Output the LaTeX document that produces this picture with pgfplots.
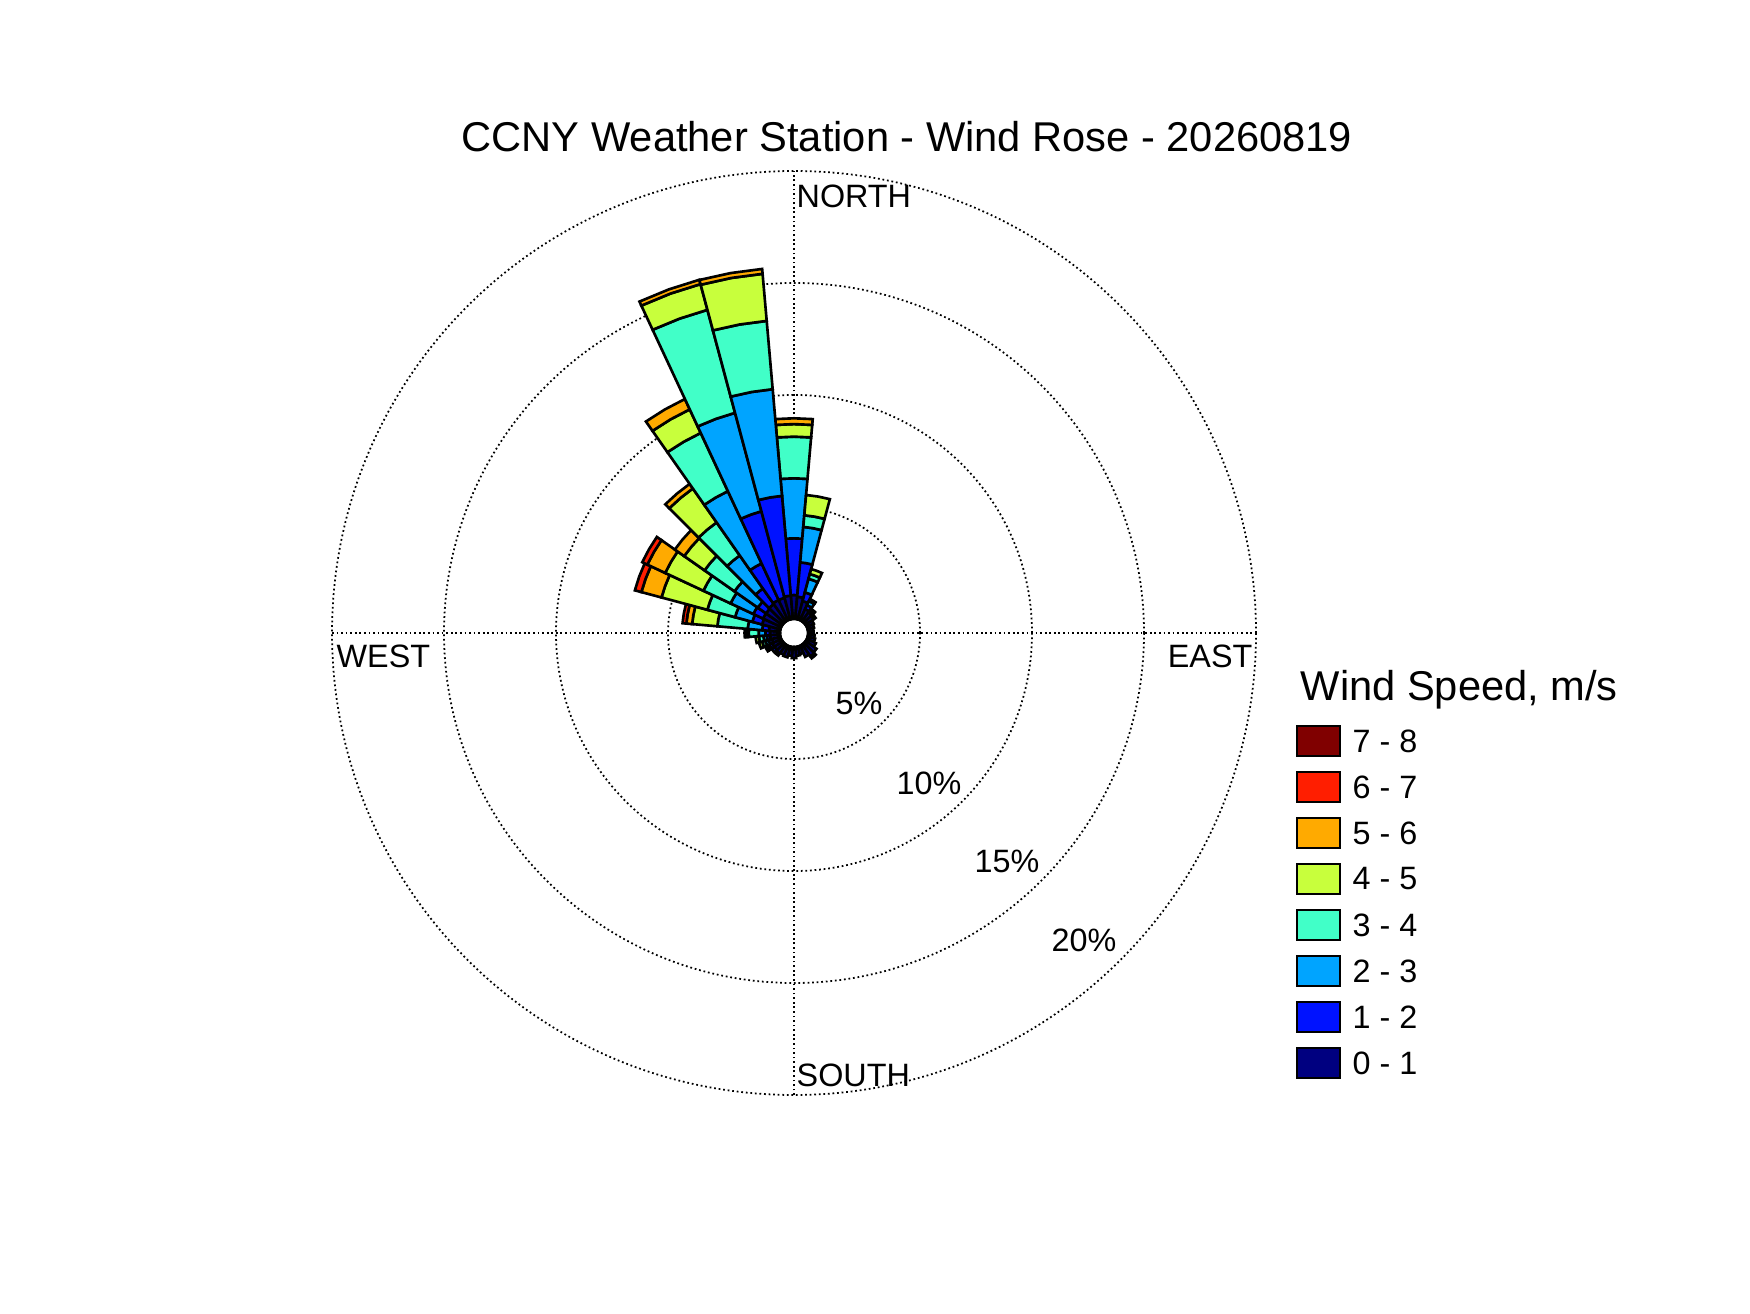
\documentclass[border=0pt]{standalone}
\usepackage{fontspec}
\setmainfont{Liberation Sans}
\usepackage{pgfplots}
\usepackage{pgfplotstable}
\pgfplotsset{compat=1.18}
\definecolor{c1}{RGB}{0,0,128}
\definecolor{c2}{RGB}{0,18,255}
\definecolor{c3}{RGB}{0,164,255}
\definecolor{c4}{RGB}{65,255,200}
\definecolor{c5}{RGB}{200,255,60}
\definecolor{c6}{RGB}{255,170,0}
\definecolor{c7}{RGB}{255,30,0}
\definecolor{c8}{RGB}{128,0,0}
% per-direction frequency (%) of each speed class
\pgfplotstableread{
dir c1 c2 c3 c4 c5 c6 c7 c8
0 1.07 2.53 2.68 1.86 0.56 0.26 0 0
10 1.00 1.54 1.59 0.52 0.91 0 0 0
20 0.85 0.40 0.63 0.22 0.23 0 0 0
30 0.55 0.20 0.20 0.10 0 0 0 0
40 0.50 0.12 0.08 0 0 0 0 0
50 0.45 0.10 0 0 0 0 0 0
60 0.35 0 0 0 0 0 0 0
70 0.30 0 0 0 0 0 0 0
80 0.25 0 0 0 0 0 0 0
90 0.25 0 0 0 0 0 0 0
100 0.30 0 0 0 0 0 0 0
110 0.35 0 0 0 0 0 0 0
120 0.45 0 0 0 0 0 0 0
130 0.60 0 0 0 0 0 0 0
140 0.65 0.10 0 0 0 0 0 0
150 0.55 0 0 0 0 0 0 0
160 0.35 0 0 0 0 0 0 0
170 0.40 0 0 0 0 0 0 0
180 0.50 0 0 0 0 0 0 0
190 0.40 0 0 0 0 0 0 0
200 0.50 0 0 0 0 0 0 0
210 0.45 0 0 0 0 0 0 0
220 0.50 0.10 0 0 0 0 0 0
230 0.45 0.15 0 0 0 0 0 0
240 0.45 0.15 0.10 0.10 0 0 0 0
250 0.40 0.15 0.15 0.15 0.15 0 0 0
260 0.45 0.15 0.15 0.20 0.15 0 0 0
270 0.45 0.20 0.30 0.45 0 0.10 0.08 0
280 0.50 0.30 0.65 1.36 1.13 0.26 0.17 0
290 0.85 0.45 0.80 1.28 2.12 0.93 0.30 0
300 0.90 0.48 1.12 1.34 1.88 0.88 0.25 0
310 0.90 0.45 1.27 1.63 1.11 0.51 0 0
320 0.95 0.85 1.80 1.80 1.85 0.25 0 0
330 1.00 1.80 3.56 2.87 1.16 0.51 0 0
340 1.00 4.00 4.55 4.76 1.19 0.20 0 0
350 1.05 4.47 4.78 3.06 2.11 0.22 0 0
}\rosedata
\tikzset{gridd/.style={line width=0.5pt, dash pattern=on 0.5pt off 0.8pt, black}}
\begin{document}
\begin{tikzpicture}
\useasboundingbox (0,0) rectangle (175mm,131.3mm);
\begin{axis}[at={(79.4mm,68mm)}, anchor=center,
  width=94.08mm, height=94.08mm, scale only axis,
  xmin=-21, xmax=21, ymin=-21, ymax=21,
  hide axis, clip=false]
  \draw[gridd] (axis cs:0,-20.625) -- (axis cs:0,20.625);
  \draw[gridd] (axis cs:-20.625,0) -- (axis cs:20.625,0);
  \draw[gridd] (axis cs:0,0) circle[radius=12.6mm];
  \draw[gridd] (axis cs:0,0) circle[radius=23.8mm];
  \draw[gridd] (axis cs:0,0) circle[radius=35.0mm];
  \draw[gridd] (axis cs:0,0) circle[radius=46.2mm];
  \pgfplotsforeachungrouped \rr in {0,...,35}{%
    \pgfplotstablegetelem{\rr}{dir}\of\rosedata
    \let\dirv\pgfplotsretval
    \def\acc{0.625}%
    \pgfmathsetmacro\aone{95-\dirv}%
    \pgfmathsetmacro\atwo{85-\dirv}%
    \pgfmathsetmacro\amid{90-\dirv}%
    \pgfplotsforeachungrouped \cc in {1,...,8}{%
      \pgfplotstablegetelem{\rr}{c\cc}\of\rosedata
      \let\val\pgfplotsretval
      \pgfmathsetmacro\rin{\acc}%
      \pgfmathsetmacro\rout{\acc+\val}%
      \pgfmathtruncatemacro\pos{\val>0.001}%
      \ifnum\pos=1\relax
        \edef\temp{\noexpand\addplot[data cs=polar, fill=c\cc, draw=black, line width=0.75pt, line join=miter, forget plot]
          coordinates {(\aone,\rin) (\aone,\rout) (\amid,\rout) (\atwo,\rout) (\atwo,\rin) (\amid,\rin)} --cycle;}%
        \temp
      \fi
      \let\acc\rout
    }%
  }
  \fill[white] (axis cs:0,0) circle[radius=1.25mm];
\end{axis}
% title
\node[anchor=base, inner sep=0pt, font=\fontsize{11.85}{14}\selectfont] at (90.7mm,116.1mm) {CCNY Weather Station - Wind Rose - 20260819};
% direction labels
\begin{scope}[every node/.style={inner sep=0pt, font=\fontsize{9.2}{11}\selectfont}]
\node[anchor=base west] at (79.6mm,110.55mm) {NORTH};
\node[anchor=base west] at (79.6mm,22.65mm) {SOUTH};
\node[anchor=base west] at (33.6mm,64.6mm) {WEST};
\node[anchor=base east] at (125.3mm,64.6mm) {EAST};
\node at (85.9mm,61.0mm) {5\%};
\node at (92.9mm,53.0mm) {10\%};
\node at (100.7mm,45.2mm) {15\%};
\node at (108.4mm,37.3mm) {20\%};
\end{scope}
% legend
\node[anchor=base west, inner sep=0pt, font=\fontsize{11.85}{14}\selectfont] at (130.0mm,61.2mm) {Wind Speed, m/s};
\begin{scope}[every node/.style={inner sep=0pt, font=\fontsize{9.2}{11}\selectfont}]
\foreach \yy/\cl/\lab in {57.2/c8/7 - 8, 52.6/c7/6 - 7, 48.0/c6/5 - 6, 43.4/c5/4 - 5, 38.8/c4/3 - 4, 34.2/c3/2 - 3, 29.6/c2/1 - 2, 25.0/c1/0 - 1}{
  \draw[fill=\cl, line width=0.5pt] (129.7mm,\yy mm-1.5mm) rectangle (134.0mm,\yy mm+1.5mm);
  \node[anchor=west] at (135.2mm,\yy mm) {\lab};
}
\end{scope}
\end{tikzpicture}
\end{document}
